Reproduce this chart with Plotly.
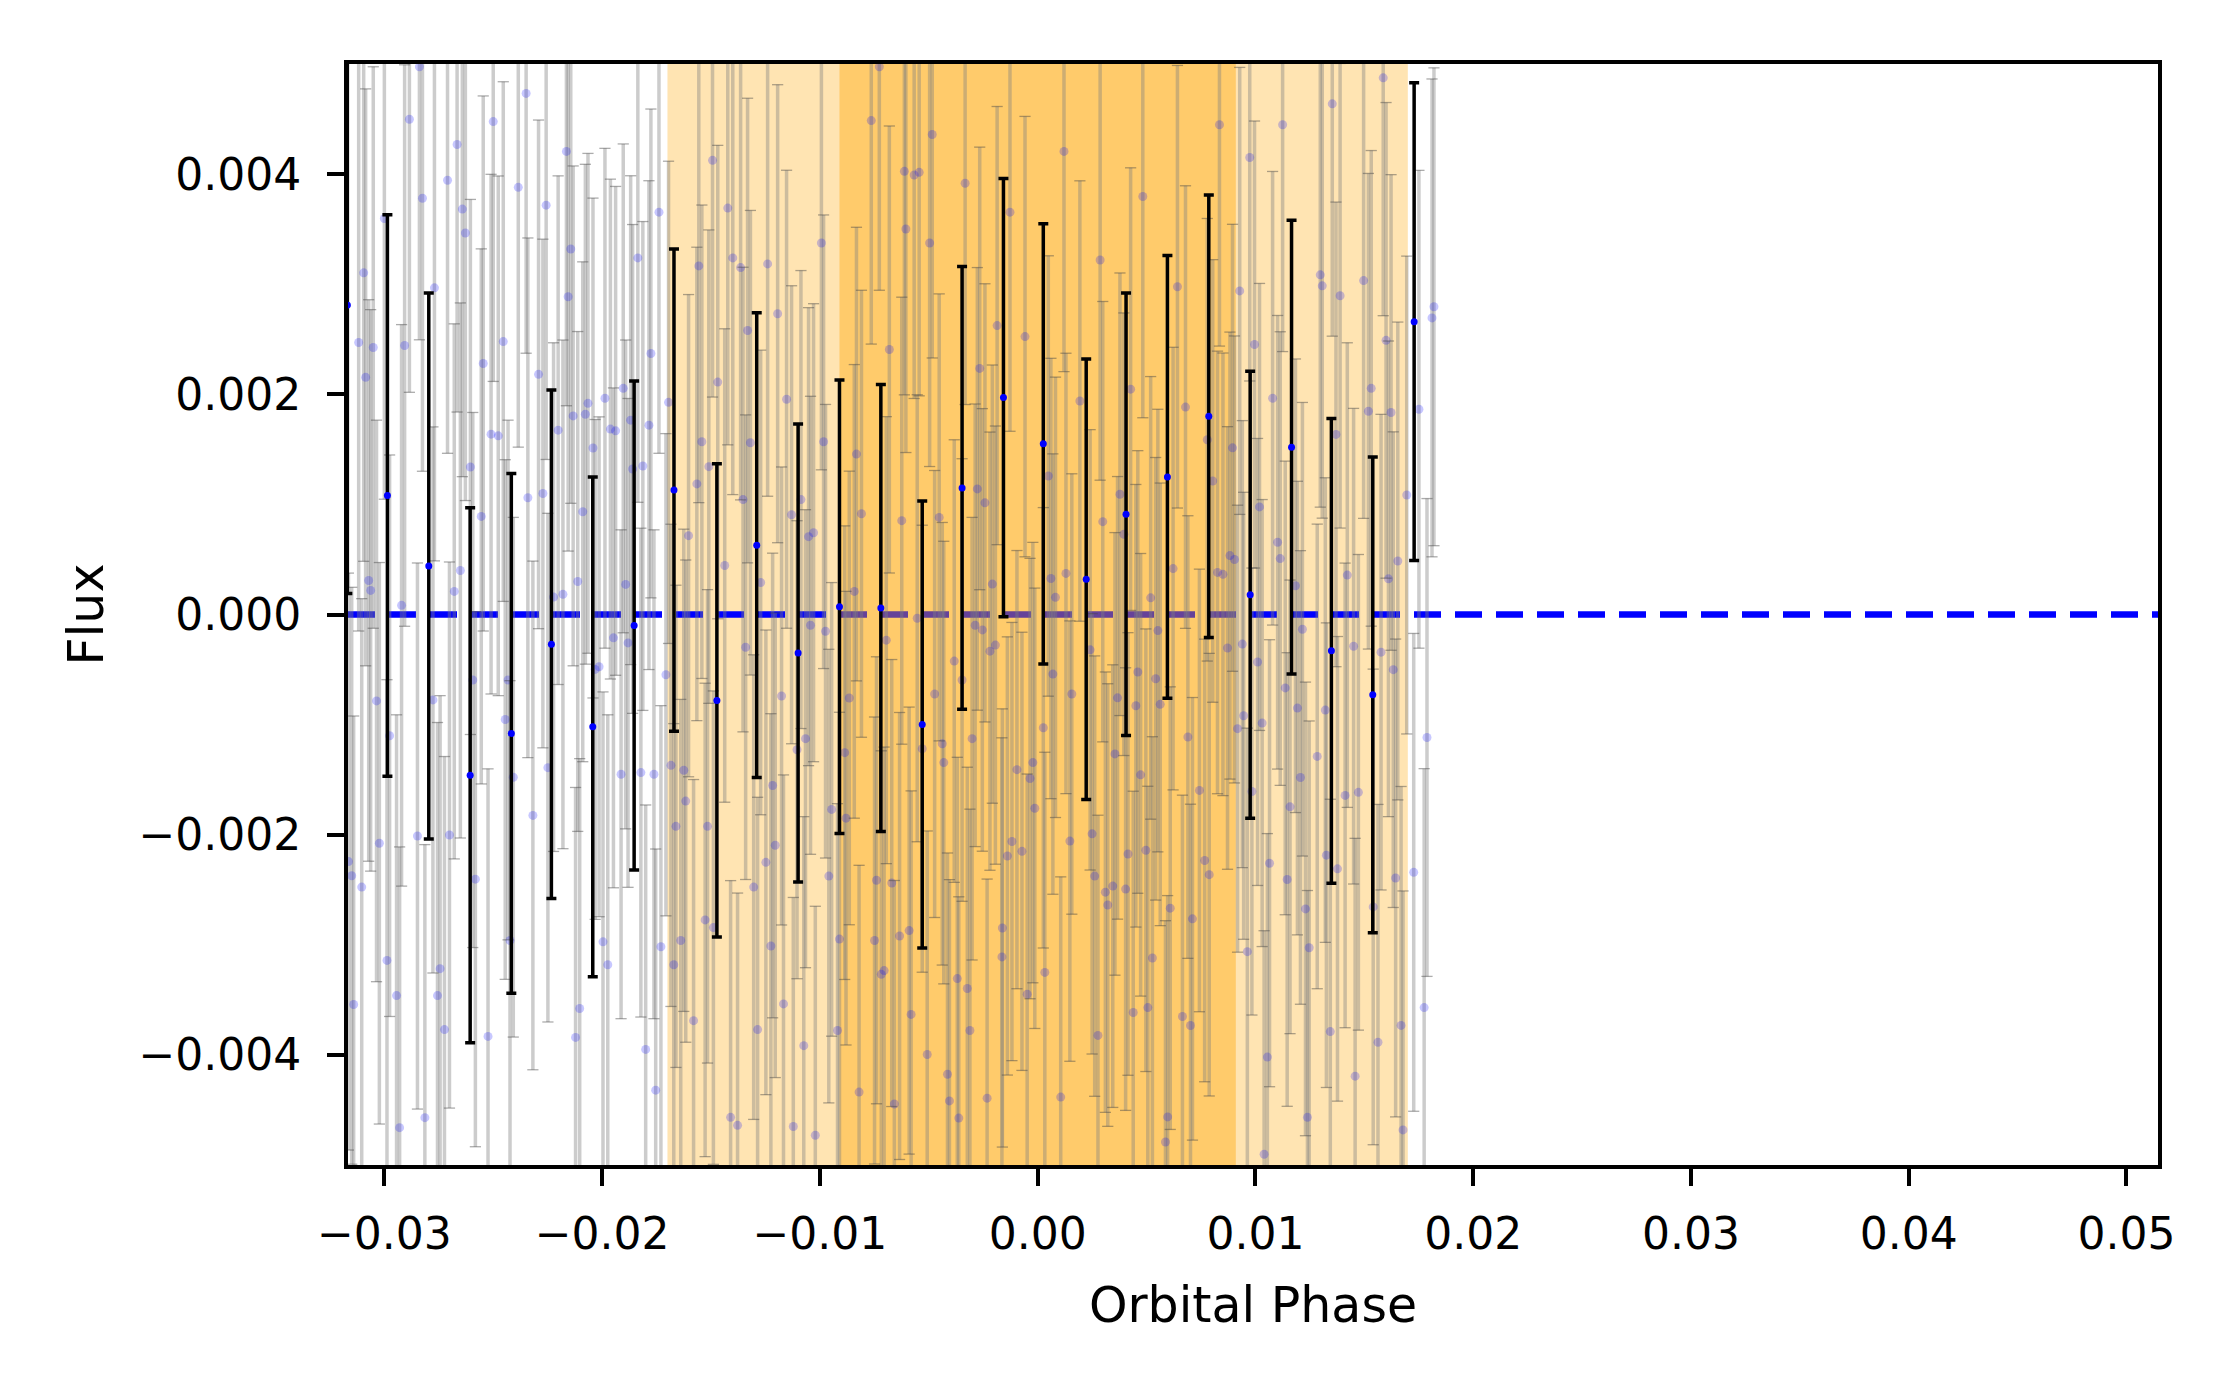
import numpy as np
import plotly.graph_objects as go

# Binned light curve (phase, flux, 1-sigma)
BIN_PHASE = [-0.03170, -0.02986, -0.02796, -0.02606, -0.02417, -0.02233, -0.02043, -0.01853,
             -0.01670, -0.01473, -0.01290, -0.01100, -0.00910, -0.00720, -0.00530, -0.00347,
             -0.00157, 0.00026, 0.00223, 0.00406, 0.00596, 0.00786, 0.00976, 0.01166,
             0.01349, 0.01539, 0.01729]
BIN_FLUX = [0.00281, 0.00108, 0.00044, -0.00146, -0.00108, -0.00027, -0.00102, -0.00010,
            0.00113, -0.00078, 0.00063, -0.00035, 0.00007, 0.00006, -0.00100, 0.00115,
            0.00197, 0.00155, 0.00032, 0.00091, 0.00125, 0.00180, 0.00018, 0.00152,
            -0.00033, -0.00073, 0.00266]
BIN_ERR = [0.00262, 0.00255, 0.00248, 0.00243, 0.00236, 0.00231, 0.00227, 0.00222,
           0.00219, 0.00215, 0.00211, 0.00208, 0.00206, 0.00203, 0.00203, 0.00201,
           0.00199, 0.00200, 0.00200, 0.00201, 0.00201, 0.00201, 0.00203, 0.00206,
           0.00211, 0.00216, 0.00217]

# Unbinned points
RAW_PHASE = [
    -0.02839, -0.02349, -0.02885, -0.02500, -0.02666, -0.02164, -0.02710, -0.02385, -0.02825, -0.02257,
    -0.02642, -0.01739, -0.03000, -0.02628, -0.02144, -0.01836, -0.01556, -0.03095, -0.02770, -0.02156,
    -0.03118, -0.03051, -0.02907, -0.02454, -0.01776, -0.02546, -0.03086, -0.02292, -0.01903, -0.01987,
    -0.02065, -0.01695, -0.02133, -0.02077, -0.01869, -0.01785, -0.02202, -0.01962, -0.01938,
    -0.02510, -0.02477, -0.01542, -0.02042, -0.02605, -0.01860, -0.01813, -0.01510, -0.01565, -0.02341,
    -0.02272, -0.02555, -0.02089, -0.01603, -0.02651, -0.03072, -0.03063, -0.02679, -0.02112, -0.01892,
    -0.02180, -0.02223, -0.02921, -0.01948, -0.01881, -0.02014, -0.02032, -0.01707, -0.02594, -0.02432,
    -0.03036, -0.02777, -0.02445, -0.02976, -0.02249, -0.02408, -0.01913, -0.01822, -0.01762, -0.01684,
    -0.01625,
    -0.01616, -0.02318, -0.01661, -0.01516, -0.03023, -0.02848, -0.02701, -0.03165, -0.03150, -0.03104,
    -0.02582, -0.01527, -0.02423, -0.01996, -0.01639, -0.01730, -0.02988, -0.02744, -0.01671, -0.01974,
    -0.02944, -0.02756, -0.03141, -0.02103, -0.01580, -0.02724, -0.02524, -0.02122, -0.01800, -0.01754,
    -0.02814, -0.02930,
    -0.00727, -0.00764, -0.00484, 0.00121, -0.01493, -0.00612, -0.00567, -0.00544, -0.00333, -0.00127,
    -0.01423, -0.00605, -0.00993, -0.00496, -0.01400, -0.01364, -0.01240, -0.01194, -0.01332, -0.00186,
    -0.00058, -0.00681, -0.00266, -0.01469, -0.01153,
    -0.01319, -0.00983, -0.00832, -0.01353, -0.01087, -0.00809, -0.01130, -0.00624, -0.00452, -0.01052,
    -0.01029, -0.00277, -0.00242, 0.00049, -0.01437, -0.01272, -0.00208, 0.00061, 0.00130, 0.00082,
    -0.00842, -0.00553, -0.01043, -0.00974, -0.00287, -0.00254, -0.00695, -0.01341, -0.00219, -0.00194,
    -0.00383, -0.00347, 0.00070, -0.01176, -0.00865, -0.00473, 0.00157, 0.00026, -0.01066, -0.00301,
    -0.01105, -0.00530, -0.00886, -0.00438, -0.00431, -0.00095, -0.00022, -0.00035, -0.01217,
    -0.00946, -0.00880, -0.00959, -0.00910, -0.00919, -0.01021, -0.01074, -0.00820, -0.00749, -0.00718,
    -0.00705, -0.00740, -0.00670, -0.00658, -0.00634, -0.00590, -0.00581, -0.00507, -0.00369, -0.00323,
    -0.00311, -0.00414, -0.00405, -0.00362, -0.00232, -0.00162, -0.00164, -0.00139, -0.00118, -0.00072,
    -0.00013, -0.00048, 0.00033, 0.00106, 0.00148,
    0.00241, 0.00250, 0.00262, 0.00277, 0.00311, 0.00322, 0.00345, 0.00355, 0.00367, 0.00404,
    0.00415, 0.00439, 0.00451, 0.00460, 0.00473, 0.00497, 0.00506, 0.00527, 0.00542, 0.00563,
    0.00609, 0.00597, 0.00587, 0.00665, 0.00690, 0.00702, 0.00711, 0.00743, 0.00767, 0.00788,
    0.00872, 0.00918, 0.00940, 0.00946, 0.00963, 0.00984, 0.01010, 0.01031, 0.01040, 0.01055,
    0.01065, 0.01137, 0.01146, 0.01159, 0.01193, 0.01207, 0.01216, 0.01230, 0.01239, 0.01247,
    0.01284, 0.01321, 0.01326, 0.01344, 0.01377, 0.01412, 0.01451, 0.01458, 0.01473, 0.01541,
    0.01563, 0.01577, 0.01633, 0.01644, 0.00552,
    0.00194, 0.00287, 0.00299, 0.00378, 0.00396, 0.00427, 0.00483, 0.00519, 0.00622, 0.00642,
    0.00679, 0.00779, 0.00804, 0.00835, 0.00826, 0.00851, 0.00883, 0.00895, 0.00904, 0.00928,
    0.00974, 0.00996, 0.01019, 0.01079, 0.01102, 0.01114, 0.01125, 0.01184, 0.01298, 0.01307,
    0.01353, 0.01370, 0.01389, 0.01422, 0.01497, 0.01519, 0.01532, 0.01587, 0.01600, 0.01623,
    0.01654, 0.01611,
    0.01695, 0.01751, 0.01811, 0.01820,
    0.01669, 0.01678, 0.01727, 0.01775, 0.01788,
    -0.01489, -0.01205, -0.01248, -0.01304, -0.01225, -0.01167, -0.01286, -0.01410, -0.01378, -0.01122,
]
RAW_FLUX = [
    0.004975, 0.004733, 0.004498, 0.004477, 0.004269, 0.004206, 0.003944, 0.003880, 0.003781, 0.003718,
    0.003682, 0.003654, 0.003597, 0.003465, 0.003320, 0.003239, 0.003166, 0.003103, 0.002967, 0.002886,
    0.002470, 0.002425, 0.002443, 0.002479, 0.002371, 0.002280, 0.002154, 0.002181, 0.002054, 0.001964,
    0.001918, 0.001927, 0.001804, 0.001819, 0.001765, 0.001720, 0.001674, 0.001684, 0.001668,
    0.001638, 0.001623, 0.001569, 0.001512, 0.001340, 0.001322, 0.001349, 0.001343, 0.001186, 0.001060,
    0.001099, 0.000891, 0.000933, 0.000716, 0.000400, 0.000309, 0.000219, 0.000210, 0.000300, 0.000273,
    0.000183, 0.000158, 0.000083, -0.000212, -0.000258, -0.000475, -0.000499, -0.000547, -0.000595, -0.000595,
    -0.000785, -0.000776, -0.000954, -0.001101, -0.001391, -0.001478, -0.001451, -0.001436, -0.001451, -0.001370,
    -0.001415,
    -0.001695, -0.001825, -0.001924, -0.001924, -0.002078, -0.002012, -0.002003, -0.002244, -0.002373, -0.002476,
    -0.002404, -0.002774, -0.002961, -0.002973, -0.002961, -0.003018, -0.003142, -0.003217, -0.003181, -0.003181,
    -0.003461, -0.003461, -0.003542, -0.003579, -0.003689, -0.003770, -0.003832, -0.003841, -0.003950, -0.004320,
    -0.004570, -0.004661,
    0.004975, 0.004486, 0.004360, 0.004206, 0.004125, 0.004025, 0.003992, 0.004016, 0.003917, 0.003654,
    0.003691, 0.003501, 0.003374, 0.003374, 0.003239, 0.003151, 0.003184, 0.002732, 0.002579, 0.002624,
    0.002524, 0.002407, 0.002235, 0.002111, 0.001955,
    0.001560, 0.001569, 0.001457, 0.001044, 0.001044, 0.000915, 0.000906, 0.000852, 0.000882, 0.000707,
    0.000743, 0.001141, 0.001014, 0.001258, 0.000445, 0.000291, 0.000276, 0.000327, 0.000373, 0.000156,
    0.000210, -0.000034, -0.000098, -0.000152, -0.000098, -0.000140, -0.000233, -0.000297, -0.000333, -0.000278,
    -0.000423, -0.000595, -0.000541, -0.000740, -0.000758, -0.000722, -0.000722, -0.001029, -0.001128, -0.001128,
    -0.001228, -0.001219, -0.001255, -0.001174, -0.001345, -0.001409, -0.001345, -0.001490, -0.001553,
    -0.001770, -0.001850, -0.002376, -0.002948, -0.003778, -0.004730, -0.003916, -0.004338, -0.002961, -0.003268,
    -0.003234, -0.002414, -0.002439, -0.004446, -0.002920, -0.002871, -0.003632, -0.003996, -0.003307, -0.003397,
    -0.003778, -0.004176, -0.004418, -0.004574, -0.004393, -0.002847, -0.003110, -0.002193, -0.002062, -0.002151,
    -0.001760, -0.003449, -0.003251, -0.004383, -0.002058,
    -0.000321, -0.001992, -0.002376, -0.003823, -0.002522, -0.002639, -0.002467, -0.001266, -0.000757, -0.002494,
    -0.002175, -0.003615, -0.000829, -0.000522, -0.001456, -0.002141, -0.003570, -0.003120, -0.000584, -0.000816,
    -0.002667, -0.004563, -0.004791, -0.003651, -0.001113, -0.003733, -0.002764, -0.001598, -0.002234, -0.002363,
    -0.000304, -0.001037, -0.000269, -0.000920, -0.003062, -0.001608, -0.000431, -0.000986, -0.004902, -0.004020,
    -0.002259, -0.000667, -0.002407, -0.001747, -0.000850, -0.001480, -0.000134, -0.002674, -0.004567, -0.003027,
    -0.001289, -0.000868, -0.002186, -0.003788, -0.002310, -0.001643, -0.000288, -0.004193, -0.001615, -0.002656,
    -0.003885, -0.000342, -0.000501, -0.002393, -0.000146,
    0.001939, 0.003220, 0.000843, 0.001092, 0.000729, 0.002047, 0.003797, 0.000151, 0.000417, 0.002977,
    0.001884, 0.001587, 0.001213, 0.004448, 0.000382, 0.000365, 0.000535, 0.001514, 0.000500, 0.002939,
    0.004151, 0.002452, 0.000977, 0.001964, 0.000656, 0.000508, 0.004448, 0.000261, 0.003085, 0.002985,
    0.004638, 0.001636, 0.002895, 0.000358, 0.003033, 0.001846, 0.002054, 0.004874, 0.002490, 0.001835,
    0.000486, 0.000324,
    0.001085, 0.001864, 0.002694, 0.002795,
    -0.003732, -0.004681, -0.002342, -0.003570, -0.001117,
    -0.002844, -0.002096, -0.002251, -0.002476, -0.003011, -0.003537, -0.003770, -0.004567, -0.004640, -0.004650,
]

# Transit window half-widths (T14 / T23) and model level
T14_HALF = 0.0170
T23_HALF = 0.0091
MODEL_FLUX = 0.0

X_RANGE = [-0.03167, 0.05145]
Y_RANGE = [-0.005, 0.005]
X_TICKS = [-0.03, -0.02, -0.01, 0.00, 0.01, 0.02, 0.03, 0.04, 0.05]
X_TICKTEXT = ["\u22120.03", "\u22120.02", "\u22120.01", "0.00", "0.01", "0.02", "0.03", "0.04", "0.05"]
Y_TICKS = [-0.004, -0.002, 0.0, 0.002, 0.004]
Y_TICKTEXT = ["\u22120.004", "\u22120.002", "0.000", "0.002", "0.004"]

raw_x = np.array(RAW_PHASE)
raw_y = np.array(RAW_FLUX)
bin_x = np.array(BIN_PHASE)
bin_err = np.array(BIN_ERR)
# each unbinned point carries roughly the uncertainty of its bin
raw_err = bin_err[np.abs(raw_x[:, None] - bin_x[None, :]).argmin(axis=1)]

fig = go.Figure()

# model line
fig.add_trace(go.Scatter(
    x=X_RANGE, y=[MODEL_FLUX, MODEL_FLUX], mode="lines",
    line=dict(color="blue", width=6.5, dash="27px,14px"),
    hoverinfo="skip", showlegend=False,
))

# full-transit (T23) window, drawn above the model line
fig.add_trace(go.Scatter(
    x=[-T23_HALF, T23_HALF, T23_HALF, -T23_HALF, -T23_HALF],
    y=[Y_RANGE[0], Y_RANGE[0], Y_RANGE[1], Y_RANGE[1], Y_RANGE[0]],
    mode="lines", fill="toself", fillcolor="rgba(255,165,0,0.4)",
    line=dict(width=0), hoverinfo="skip", showlegend=False,
))

# raw points with grey error bars
fig.add_trace(go.Scatter(
    x=raw_x, y=raw_y, mode="markers",
    marker=dict(size=9, color="rgba(0,0,255,0.22)", line=dict(width=0)),
    error_y=dict(type="data", array=raw_err, visible=True,
                 color="rgba(128,128,128,0.4)", thickness=3.5, width=0),
    hoverinfo="skip", showlegend=False,
))
# thin caps of the raw error bars
fig.add_trace(go.Scatter(
    x=np.concatenate([raw_x, raw_x]),
    y=np.concatenate([raw_y + raw_err, raw_y - raw_err]),
    mode="markers",
    marker=dict(symbol="line-ew", size=8, line=dict(width=1.3, color="rgba(70,70,70,0.45)")),
    hoverinfo="skip", showlegend=False,
))

# binned points
fig.add_trace(go.Scatter(
    x=bin_x, y=BIN_FLUX, mode="markers",
    marker=dict(size=7, color="blue"),
    error_y=dict(type="data", array=bin_err, visible=True,
                 color="black", thickness=3.5, width=5),
    hoverinfo="skip", showlegend=False,
))

# total transit (T14) window
fig.add_shape(type="rect", xref="x", yref="paper", x0=-T14_HALF, x1=T14_HALF, y0=0, y1=1,
              fillcolor="rgba(255,165,0,0.3)", line=dict(width=0), layer="below")

font = dict(family="DejaVu Sans", size=44, color="black")
fig.update_layout(
    width=2240, height=1400,
    margin=dict(l=340, r=90, t=56, b=243),
    plot_bgcolor="white", paper_bgcolor="white",
    font=font, showlegend=False,
)
fig.update_xaxes(
    range=X_RANGE, tickvals=X_TICKS, ticktext=X_TICKTEXT,
    showgrid=False, zeroline=False,
    showline=True, linecolor="black", linewidth=3.9, mirror=True,
    ticks="outside", ticklen=17, tickwidth=3.9, tickcolor="black",
    tickfont=font, ticklabelstandoff=10,
    title=dict(text="Orbital Phase", font=dict(family="DejaVu Sans", size=49), standoff=31),
)
fig.update_yaxes(
    range=Y_RANGE, tickvals=Y_TICKS, ticktext=Y_TICKTEXT,
    showgrid=False, zeroline=False,
    showline=True, linecolor="black", linewidth=3.9, mirror=True,
    ticks="outside", ticklen=17, tickwidth=3.9, tickcolor="black",
    tickfont=font, ticklabelstandoff=17,
    title=dict(text="Flux", font=dict(family="DejaVu Sans", size=49), standoff=20),
)

fig.write_html("out.html")
